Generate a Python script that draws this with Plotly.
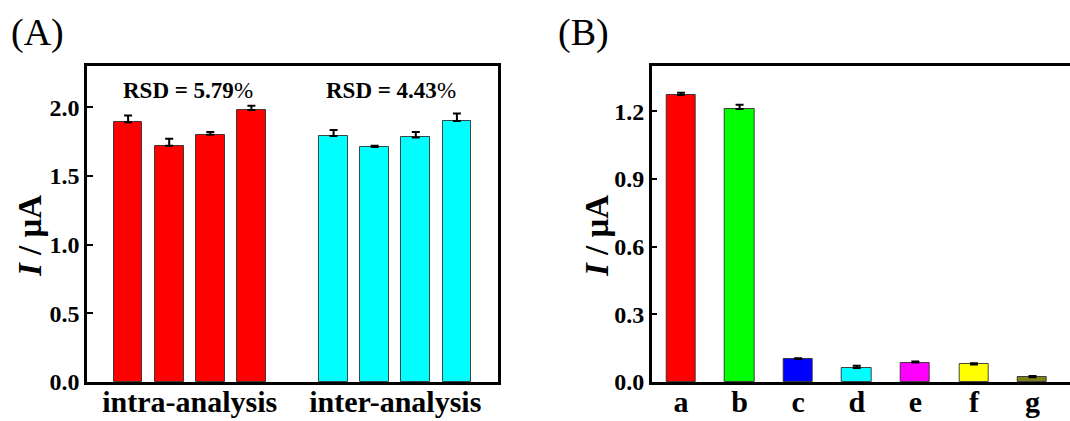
import plotly.graph_objects as go

# ---- data -------------------------------------------------------------
# Panel (A): reproducibility
intra_values = [1.89, 1.72, 1.80, 1.98]
intra_errors = [0.05, 0.05, 0.02, 0.03]
inter_values = [1.79, 1.71, 1.78, 1.90]
inter_errors = [0.045, 0.01, 0.04, 0.055]
intra_pos = [1, 2, 3, 4]
inter_pos = [6, 7, 8, 9]
group_labels = ["intra-analysis", "inter-analysis"]
group_label_pos = [2.5, 7.5]
rsd_texts = ["RSD = 5.79", "RSD = 4.43"]

# Panel (B): selectivity
sel_labels = ["a", "b", "c", "d", "e", "f", "g"]
sel_values = [1.272, 1.210, 0.102, 0.062, 0.086, 0.078, 0.021]
sel_errors = [0.010, 0.018, 0.003, 0.010, 0.005, 0.005, 0.006]
sel_colors = ["#ff0000", "#00ff00", "#0000ff", "#00ffff", "#ff00ff", "#ffff00", "#80801a"]

# ---- styling ------------------------------------------------------------
W, H = 1070, 421
FONT = "Liberation Serif, Times New Roman, serif"
BAR_EDGE = dict(color="rgba(40,40,40,0.85)", width=1)


def px_x(p):
    return p / W


def px_y(p):
    return (H - p) / H


ax_top, ax_bot = 66, 382
ydom = [px_y(ax_bot), px_y(ax_top)]

fig = go.Figure()


def err(vals):
    return dict(type="data", symmetric=False, array=vals, arrayminus=[0] * len(vals),
                color="black", thickness=2, width=4)


fig.add_trace(go.Bar(x=intra_pos, y=intra_values, width=0.7, marker=dict(color="#ff0000", line=BAR_EDGE),
                     error_y=err(intra_errors), xaxis="x", yaxis="y", showlegend=False))
fig.add_trace(go.Bar(x=inter_pos, y=inter_values, width=0.7, marker=dict(color="#00ffff", line=BAR_EDGE),
                     error_y=err(inter_errors), xaxis="x", yaxis="y", showlegend=False))
fig.add_trace(go.Bar(x=list(range(len(sel_labels))), y=sel_values, width=0.5,
                     marker=dict(color=sel_colors, line=BAR_EDGE),
                     error_y=err(sel_errors), xaxis="x2", yaxis="y2", showlegend=False))

axis_line = dict(showline=True, linecolor="black", linewidth=2.5, showgrid=False, zeroline=False,
                 automargin=False)
ytick_font = dict(family=FONT, size=24, color="black")
xtick_font = dict(family=FONT, size=30, color="black")

fig.update_layout(
    width=W, height=H,
    margin=dict(l=0, r=0, t=0, b=0),
    paper_bgcolor="white", plot_bgcolor="white",
    bargap=0,
    xaxis=dict(domain=[px_x(87), px_x(498)], range=[0, 10], anchor="y",
               tickvals=group_label_pos, ticktext=[f"<b>{t}</b>" for t in group_labels],
               ticks="", mirror=True, tickfont=xtick_font, ticklabelstandoff=-9, **axis_line),
    yaxis=dict(domain=ydom, range=[0, 2.3], anchor="x", tickvals=[0, 0.5, 1.0, 1.5, 2.0],
               ticktext=[f"<b>{v:.1f}</b>" for v in [0, 0.5, 1.0, 1.5, 2.0]],
               ticks="inside", ticklen=6, tickwidth=2, tickcolor="black", mirror=True,
               tickfont=ytick_font, **axis_line),
    xaxis2=dict(domain=[px_x(651.7), 1.0], range=[-0.5, 6.64], anchor="y2",
                tickvals=list(range(len(sel_labels))), ticktext=[f"<b>{t}</b>" for t in sel_labels],
                ticks="", mirror=True, tickfont=xtick_font, ticklabelstandoff=-9, **axis_line),
    yaxis2=dict(domain=ydom, range=[0, 1.4], anchor="x2", tickvals=[0, 0.3, 0.6, 0.9, 1.2],
                ticktext=[f"<b>{v:.1f}</b>" for v in [0, 0.3, 0.6, 0.9, 1.2]],
                ticks="inside", ticklen=6, tickwidth=2, tickcolor="black",
                tickfont=ytick_font, **axis_line),
)

annotations = []
# RSD labels above each group
for xpos, txt in zip([2.45, 7.4], rsd_texts):
    annotations.append(dict(x=xpos, y=2.12, xref="x", yref="y", showarrow=False,
                            xanchor="center", yanchor="middle",
                            text=f"<b>{txt}</b>%", font=dict(family=FONT, size=23, color="black")))
# panel letters
for xc, letter in [(37, "(A)"), (583, "(B)")]:
    annotations.append(dict(x=px_x(xc), y=px_y(32), xref="paper", yref="paper", showarrow=False,
                            xanchor="center", yanchor="middle",
                            text=letter, font=dict(family=FONT, size=38, color="black")))
# y-axis titles
for xc in [30, 597]:
    annotations.append(dict(x=px_x(xc), y=px_y(236), xref="paper", yref="paper", showarrow=False,
                            xanchor="center", yanchor="middle",
                            textangle=-90, text="<b><i>I</i> / μA</b>",
                            font=dict(family=FONT, size=33, color="black")))
fig.update_layout(annotations=annotations)

fig.write_html("out.html")
